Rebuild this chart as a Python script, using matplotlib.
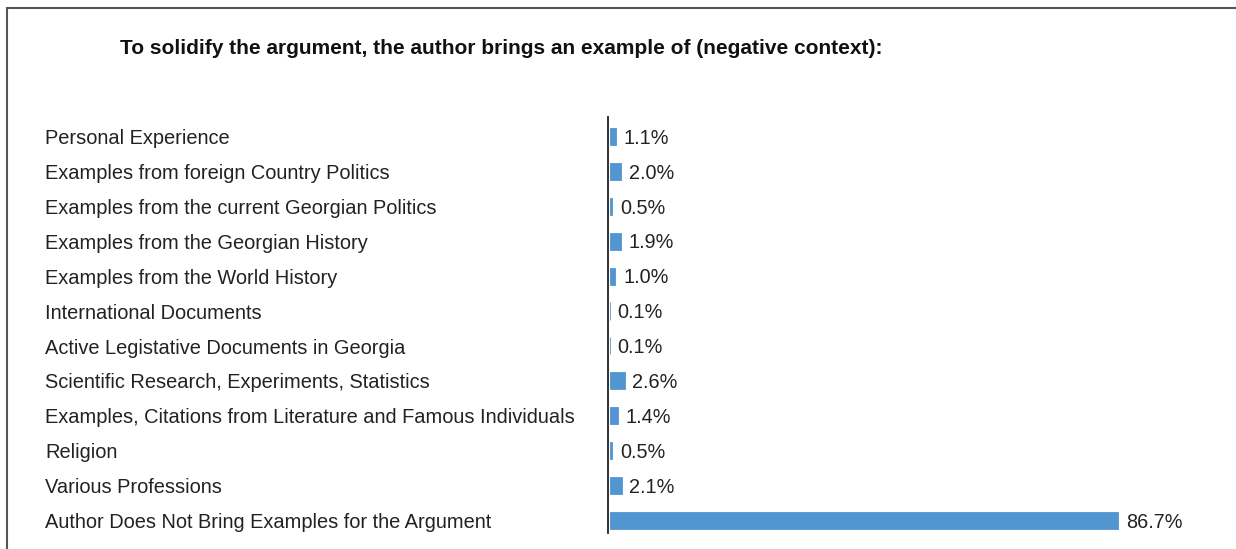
import matplotlib
matplotlib.use("Agg")
import matplotlib.pyplot as plt
from matplotlib.transforms import blended_transform_factory, offset_copy
from matplotlib.patches import Rectangle

title = "To solidify the argument, the author brings an example of (negative context):"
categories = [
    "Personal Experience",
    "Examples from foreign Country Politics",
    "Examples from the current Georgian Politics",
    "Examples from the Georgian History",
    "Examples from the World History",
    "International Documents",
    "Active Legistative Documents in Georgia",
    "Scientific Research, Experiments, Statistics",
    "Examples, Citations from Literature and Famous Individuals",
    "Religion",
    "Various Professions",
    "Author Does Not Bring Examples for the Argument",
]
values = [1.1, 2.0, 0.5, 1.9, 1.0, 0.1, 0.1, 2.6, 1.4, 0.5, 2.1, 86.7]

plt.rcParams['font.family'] = ['Liberation Sans', 'DejaVu Sans']

W, H = 1236, 549
fig = plt.figure(figsize=(W / 100, H / 100), dpi=100)

# outer frame (top and left visible)
fig.patches.append(Rectangle((7 / W, -0.05), 1.2, 1 - 8 / H + 0.05, transform=fig.transFigure,
                             fill=False, edgecolor='#555555', linewidth=1.5))

ax = fig.add_axes([609.5 / W, 1 - 533 / H, 587 / W, 416 / H])
y = list(range(len(categories)))
ax.barh(y, values, height=0.49, color='#5296D1', edgecolor='#5296D1', linewidth=0.6, left=0)
ax.set_xlim(0, 100)
ax.set_ylim(len(categories) - 1 + 0.36, -0.56)
for s in ['top', 'right', 'bottom']:
    ax.spines[s].set_visible(False)
ax.spines['left'].set_color('#222222')
ax.spines['left'].set_linewidth(1.3)
ax.spines['left'].set_position(('outward', 1.2))
ax.set_xticks([])
ax.set_yticks([])
ax.patch.set_alpha(0)

for yi, v in zip(y, values):
    ax.annotate(f"{v:.1f}%", (v, yi), xytext=(5.5, -1.2), textcoords='offset points',
                va='center', ha='left', fontsize=14.3, color='#222222')

trans = offset_copy(blended_transform_factory(fig.transFigure, ax.transData),
                    fig=fig, x=0, y=-1.5, units='points')
for yi, c in zip(y, categories):
    ax.text(45 / W, yi, c, transform=trans, va='center', ha='left', fontsize=14.4,
            color='#222222', clip_on=False)

fig.text(120 / W, 1 - 48 / H, title, ha='left', va='center', fontsize=15,
         fontweight='bold', color='#111111')

fig.savefig("out.png", dpi=100)
